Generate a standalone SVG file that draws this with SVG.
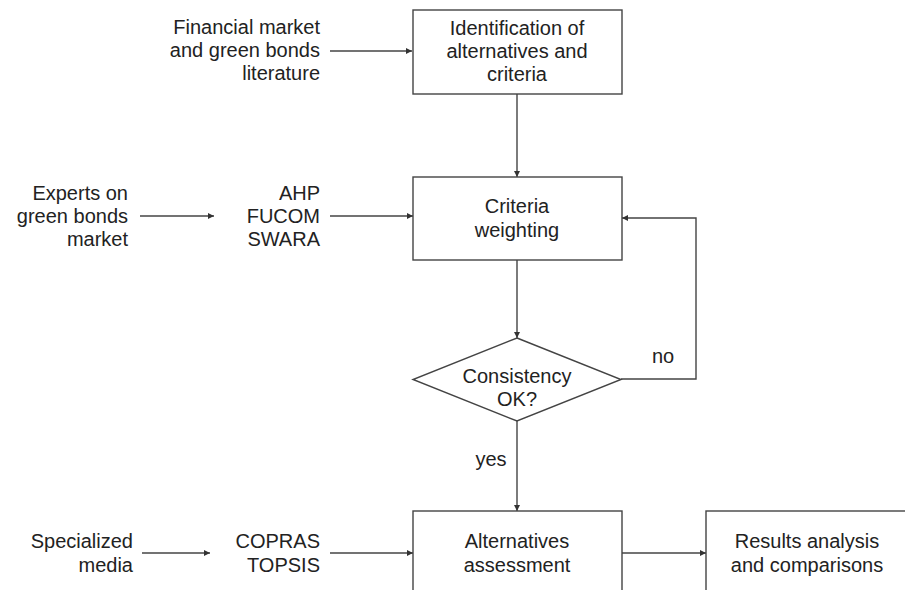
<svg xmlns="http://www.w3.org/2000/svg" width="905" height="590" viewBox="0 0 905 590">
<style>
text{font-family:"Liberation Sans",Arial,sans-serif;font-size:20px;fill:#222}
.r{text-anchor:end}
.m{text-anchor:middle}
.box{fill:#fff;stroke:#444;stroke-width:1.4}
.c{fill:none;stroke:#444;stroke-width:1.4;marker-end:url(#ah)}
</style>
<defs>
<marker id="ah" viewBox="0 0 8 8" refX="8" refY="4" markerWidth="6" markerHeight="6" markerUnits="userSpaceOnUse" orient="auto">
<path d="M0,0L8,4L0,8z" fill="#333"/>
</marker>
</defs>
<rect width="905" height="590" fill="#fff"/>
<g id="connectors">
<path class="c" d="M330,51H412"/>
<path class="c" d="M140,216H214"/>
<path class="c" d="M330,216H413"/>
<path class="c" d="M517,94V177"/>
<path class="c" d="M517,260V338"/>
<path class="c" d="M621,379H696V218H622"/>
<path class="c" d="M517,421V511"/>
<path class="c" d="M142,553H210"/>
<path class="c" d="M330,553H413"/>
<path class="c" d="M622,553H706"/>
</g>
<g id="src1"><text class="r" x="320" y="34">Financial market</text><text class="r" x="320" y="57">and green bonds</text><text class="r" x="320" y="80">literature</text></g>
<g id="ident"><rect class="box" x="413" y="10" width="209" height="84"/><text class="m" x="517" y="35">Identification of</text><text class="m" x="517" y="58">alternatives and</text><text class="m" x="517" y="81">criteria</text></g>
<g id="experts"><text class="r" x="128" y="200">Experts on</text><text class="r" x="128" y="223">green bonds</text><text class="r" x="128" y="246">market</text></g>
<g id="methods1"><text class="r" x="320" y="200">AHP</text><text class="r" x="320" y="223">FUCOM</text><text class="r" x="320" y="246">SWARA</text></g>
<g id="weighting"><rect class="box" x="413" y="177" width="209" height="83"/><text class="m" x="517" y="213">Criteria</text><text class="m" x="517" y="237">weighting</text></g>
<g id="consistency"><polygon class="box" points="517,338 621,379.5 517,421 413,379.5"/><text class="m" x="517" y="383">Consistency</text><text class="m" x="517" y="406">OK?</text></g>
<g id="lbl-no"><text class="m" x="663" y="363">no</text></g>
<g id="lbl-yes"><text class="m" x="491" y="466">yes</text></g>
<g id="media"><text class="r" x="133" y="548">Specialized</text><text class="r" x="133" y="572">media</text></g>
<g id="methods2"><text class="r" x="320" y="548">COPRAS</text><text class="r" x="320" y="572">TOPSIS</text></g>
<g id="assess"><rect class="box" x="413" y="511" width="209" height="90"/><text class="m" x="517" y="548">Alternatives</text><text class="m" x="517" y="572">assessment</text></g>
<g id="results"><rect class="box" x="706" y="511" width="210" height="90"/><text class="m" x="807" y="548">Results analysis</text><text class="m" x="807" y="572">and comparisons</text></g>
</svg>
